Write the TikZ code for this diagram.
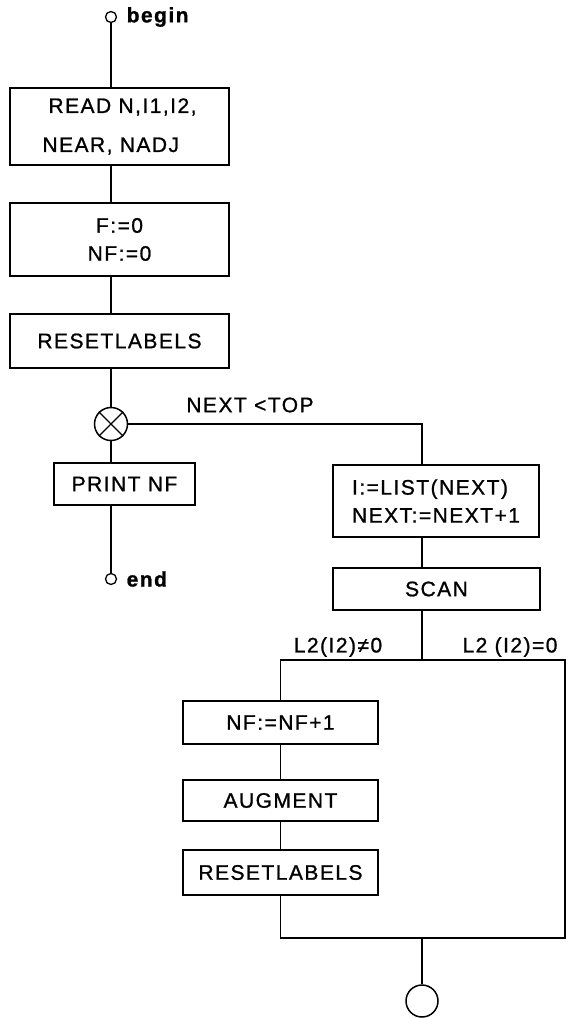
\documentclass[tikz,border=0pt]{standalone}
\usepackage{fontspec}
\setmainfont{Liberation Sans}[LetterSpace=7, FakeBold=1]
\begin{document}
\begin{tikzpicture}[x=1pt, y=-1pt,
  font=\fontsize{21}{28}\selectfont,
  box/.style={draw, line width=1.8pt, inner sep=0pt, align=center},
  flow/.style={line width=1.2pt},
  term/.style={draw, circle, line width=1.3pt, minimum size=11pt, inner sep=0pt},
  termlabel/.style={font=\fontsize{21}{28}\selectfont\bfseries, label distance=6pt},
  joint/.style={draw, circle, line width=1.5pt, inner sep=0pt}]
  \useasboundingbox (0,0) rectangle (569,1018);

  % Main column
  \node[term, label={[termlabel]right:begin}] (begin) at (111,17) {};
  \node[box, minimum width=219, minimum height=77, align=left] (read) at (119.5,126.5)
    {\hspace*{6pt}READ N,I1,I2,\\[11pt]NEAR, NADJ};
  \node[box, minimum width=219, minimum height=73] (fz) at (119.5,239.5) {F:=0\\NF:=0};
  \node[box, minimum width=219, minimum height=54] (reset) at (119.5,341) {RESETLABELS};
  \node[joint, minimum size=33pt] (cross) at (111,424) {};
  \node[box, minimum width=141, minimum height=42] (print) at (124.5,484) {PRINT NF};
  \node[term, label={[termlabel]right:end}] (end) at (111,579) {};

  \draw[flow] (cross.45) -- (cross.225) (cross.135) -- (cross.315);
  \draw[flow] (begin) -- (begin |- read.north);
  \draw[flow] (begin |- read.south) -- (begin |- fz.north);
  \draw[flow] (begin |- fz.south) -- (begin |- reset.north);
  \draw[flow] (begin |- reset.south) -- (cross);
  \draw[flow] (cross) -- (cross |- print.north);
  \draw[flow] (cross |- print.south) -- (end);

  % Loop body
  \node (cond) at (250,405) {NEXT <TOP};
  \coordinate (col) at (422,424);
  \node[box, minimum width=206, minimum height=72, align=left] (list) at (436,501)
    {I:=LIST(NEXT)\\NEXT:=NEXT+1};
  \node[box, minimum width=207, minimum height=42] (scan) at (436.5,589) {SCAN};
  \draw[flow] (cross) -- (col) -- (col |- list.north);
  \draw[flow] (col |- list.south) -- (col |- scan.north);

  % Branch on the sink label
  \coordinate (split) at (422,660);
  \coordinate (lt) at (280.5,660);
  \coordinate (rt) at (565,660);
  \coordinate (rb) at (565,938);
  \coordinate (lb) at (280.5,938);
  \node (yes) at (338,647) {L2(I2)≠0};
  \node (no) at (510,647) {L2 (I2)=0};
  \node[box, minimum width=195, minimum height=43] (inc) at (280.5,722.5) {NF:=NF+1};
  \node[box, minimum width=195, minimum height=41] (aug) at (280.5,800.5) {AUGMENT};
  \node[box, minimum width=195, minimum height=45] (reset2) at (280.5,872.5) {RESETLABELS};
  \node[joint, minimum size=32pt] (stop) at (422,1001) {};

  \draw[flow] (col |- scan.south) -- (split);
  \draw[flow] (inc) -- (lt) -- (rt) -- (rb) -- (lb) -- (reset2);
  \draw[flow] (inc) -- (aug);
  \draw[flow] (aug) -- (reset2);
  \draw[flow] (split |- lb) -- (stop);
\end{tikzpicture}
\end{document}
